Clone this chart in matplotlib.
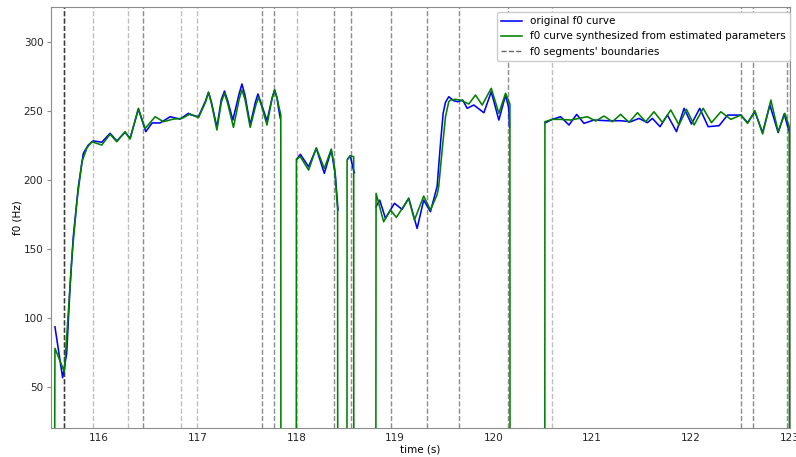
import matplotlib
matplotlib.use("Agg")
import matplotlib.pyplot as plt
import numpy as np

# ---- original f0 curve (blue), per voiced segment: time (s), f0 (Hz)
blue_t1 = [115.553, 115.631, 115.672, 115.706, 115.739, 115.790, 115.841, 115.891, 115.942,
           116.027, 116.112, 116.180, 116.264, 116.315, 116.399, 116.474, 116.538, 116.619,
           116.721, 116.822, 116.907, 116.924, 117.008, 117.080, 117.110, 117.140, 117.195,
           117.240, 117.272, 117.305, 117.357, 117.420, 117.449, 117.480, 117.533, 117.585,
           117.611, 117.640, 117.703, 117.755, 117.780, 117.805, 117.820, 117.838]
blue_f1 = [93.3, 56.4, 74.0, 122.0, 158.6, 194.8, 219.0, 225.0, 228.0,
           227.0, 233.5, 228.0, 234.2, 229.9, 251.0, 234.7, 241.0, 241.0,
           245.5, 243.8, 248.0, 247.0, 245.5, 257.0, 263.2, 256.0, 237.8,
           258.0, 264.1, 257.0, 243.1, 262.0, 269.2, 261.0, 239.5, 256.0,
           262.0, 256.0, 242.6, 259.0, 264.9, 259.0, 251.6, 244.3]
blue_t2 = [118.007, 118.041, 118.125, 118.203, 118.284, 118.355, 118.396, 118.423]
blue_f2 = [214.9, 218.3, 209.3, 222.6, 204.5, 221.4, 203.3, 178.0]
blue_t3 = [118.521, 118.548, 118.576, 118.589]
blue_f3 = [214.9, 217.2, 208.0, 205.0]
blue_t4 = [118.809, 118.846, 118.904, 118.995, 119.073, 119.140, 119.225, 119.292, 119.360,
           119.428, 119.462, 119.489, 119.513, 119.546, 119.597, 119.636, 119.687, 119.733,
           119.800, 119.902, 119.977, 120.054, 120.122, 120.155, 120.162]
blue_f4 = [180.3, 185.1, 171.9, 182.8, 178.4, 186.4, 164.6, 185.1, 176.7,
           195.0, 226.0, 248.0, 256.0, 260.0, 257.1, 256.4, 257.6, 251.6,
           254.0, 248.4, 263.6, 243.1, 261.2, 251.6, 238.0]
blue_t5 = [120.528, 120.596, 120.680, 120.765, 120.843, 120.917, 121.018, 121.154, 121.289,
           121.391, 121.475, 121.560, 121.611, 121.688, 121.763, 121.855, 121.932, 122.007,
           122.091, 122.176, 122.287, 122.373, 122.508, 122.576, 122.650, 122.728, 122.802,
           122.886, 122.947, 122.998]
blue_f5 = [241.2, 243.6, 245.5, 239.5, 247.2, 240.7, 243.1, 242.6, 242.6,
           241.9, 244.3, 241.2, 244.3, 238.3, 246.7, 234.7, 251.6, 240.2,
           251.6, 238.3, 239.0, 246.7, 246.7, 241.2, 249.1, 234.0, 254.0,
           234.0, 247.5, 234.7]

# ---- synthesized f0 curve (green), zero where unvoiced
green_t = [115.550, 115.553, 115.648, 115.685, 115.726, 115.777, 115.827, 115.878, 115.926,
           116.027, 116.112, 116.180, 116.264, 116.315, 116.399, 116.467, 116.569, 116.653,
           116.754, 116.840, 116.924, 117.008, 117.080, 117.110, 117.140, 117.195, 117.240,
           117.272, 117.305, 117.363, 117.420, 117.449, 117.480, 117.533, 117.590, 117.618,
           117.645, 117.703, 117.755, 117.780, 117.805, 117.820, 117.843, 117.844,
           118.000, 118.001, 118.041, 118.125, 118.203, 118.284, 118.355, 118.389, 118.419, 118.420,
           118.514, 118.515, 118.548, 118.582, 118.583,
           118.807, 118.809, 118.836, 118.886, 118.954, 119.015, 119.073, 119.140, 119.198,
           119.292, 119.360, 119.428, 119.444, 119.479, 119.513, 119.546, 119.563, 119.614,
           119.665, 119.749, 119.817, 119.885, 119.977, 120.054, 120.122, 120.166, 120.167,
           120.520, 120.521, 120.596, 120.680, 120.782, 120.951, 121.036, 121.120, 121.205,
           121.289, 121.374, 121.459, 121.543, 121.627, 121.713, 121.797, 121.881, 121.956,
           122.034, 122.125, 122.210, 122.305, 122.406, 122.508, 122.576, 122.650, 122.728,
           122.812, 122.886, 122.954, 122.998, 123.000]
green_f = [0.0, 77.7, 60.7, 100.0, 145.0, 185.0, 213.0, 223.0, 227.4,
           225.0, 232.8, 227.4, 234.7, 229.3, 251.6, 237.0, 245.5, 241.9,
           243.8, 244.3, 247.5, 244.8, 256.0, 263.2, 255.0, 235.9, 256.0,
           262.5, 255.0, 237.8, 258.0, 264.9, 258.0, 237.8, 254.0, 259.6,
           254.0, 239.5, 259.0, 264.9, 259.0, 254.0, 247.0, 0.0,
           0.0, 214.9, 216.5, 206.9, 223.0, 208.0, 222.1, 208.0, 178.0, 0.0,
           0.0, 214.1, 217.2, 216.5, 0.0,
           0.0, 190.0, 182.8, 169.4, 177.9, 172.6, 179.0, 186.4, 170.7,
           188.0, 177.9, 189.0, 194.8, 221.4, 245.5, 256.4, 257.6, 258.1,
           257.6, 254.7, 261.2, 254.0, 266.1, 248.0, 262.5, 254.7, 0.0,
           0.0, 241.9, 243.6, 243.6, 243.1, 245.5, 242.4, 246.0, 241.9,
           247.2, 241.4, 248.4, 241.9, 249.1, 241.4, 250.4, 239.5, 250.9,
           239.5, 251.6, 241.2, 249.1, 243.6, 246.7, 240.7, 249.9, 233.0,
           257.6, 234.7, 248.0, 238.3, 0.0]

# ---- segment boundaries (s) and how many boundaries coincide there
boundaries = [115.648, 115.936, 116.291, 116.450, 116.832, 116.995, 117.650, 117.779,
              118.010, 118.381, 118.553, 118.960, 119.323, 119.652, 120.144, 120.596,
              122.508, 122.633, 122.972, 123.002]
boundary_counts = [5, 1, 1, 2, 1, 1, 2, 2, 1, 2, 2, 2, 2, 2, 2, 1, 2, 2, 2, 2]

x_ticks = [116, 117, 118, 119, 120, 121, 122, 123]
y_ticks = [50, 100, 150, 200, 250, 300]

FS = 7.5
plt.rcParams['font.family'] = ['DejaVu Sans']
fig = plt.figure(figsize=(7.96, 4.57), dpi=100)
ax = fig.add_axes([51/796, 29/457, 739/796, 421/457])

blue_segs = [(blue_t1, blue_f1), (blue_t2, blue_f2), (blue_t3, blue_f3),
             (blue_t4, blue_f4), (blue_t5, blue_f5)]
bt = []
bf = []
for t, f in blue_segs:
    bt += list(t) + [np.nan]
    bf += list(f) + [np.nan]

ax.plot(bt, bf, color='blue', lw=1.15, label='original f0 curve', zorder=3,
        solid_joinstyle='round')
ax.plot(green_t, green_f, color='green', lw=1.15,
        label='f0 curve synthesized from estimated parameters', zorder=4,
        solid_joinstyle='round')

first = True
for b, n in zip(boundaries, boundary_counts):
    for _ in range(n):
        ax.axvline(b, color='k', ls='--', lw=1.0, alpha=0.25, zorder=1,
                   label=("f0 segments' boundaries" if first else None))
        first = False

ax.set_xlim(115.513, 123.006)
ax.set_ylim(20, 325)
ax.set_xticks(x_ticks)
ax.set_yticks(y_ticks)
ax.tick_params(labelsize=FS, colors='0.15')
ax.tick_params(axis='x', length=0, pad=3.5)
ax.tick_params(axis='y', length=3, pad=2.5, color='0.55')
for s in ax.spines.values():
    s.set_color('0.55')
ax.set_xlabel('time (s)', fontsize=FS, labelpad=1.5)
ax.set_ylabel('f0 (Hz)', fontsize=FS, labelpad=1)

leg = ax.legend(loc='upper right', fontsize=FS, framealpha=1.0, borderaxespad=0.0,
                bbox_to_anchor=(1.0, 0.988))
leg.legend_handles[2].set_alpha(0.6)

fig.savefig('out.png', dpi=100)
